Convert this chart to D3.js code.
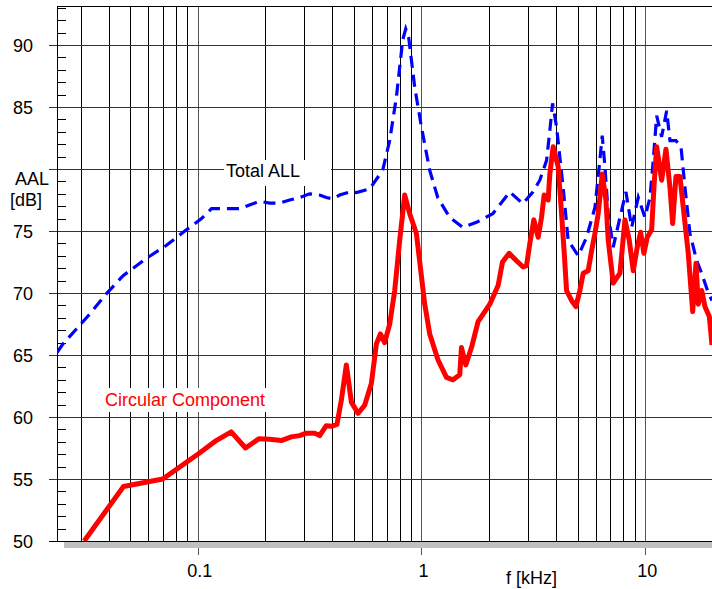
<!DOCTYPE html>
<html>
<head>
<meta charset="utf-8">
<script src="https://cdn.jsdelivr.net/npm/d3@7"></script>
<style>
	body { margin:0; background:#fff; }
	svg text { font-family: "Liberation Sans", Arial, sans-serif; font-size:18px; }
</style>
</head>
<body>
<div id="chart"></div>
<script>
////////////////////////////////////////////////////
// data : frequency in kHz, level in dB
var totalF = [0.0235,0.025,0.0287,0.0329,0.0391,0.0464,0.059,0.0725,0.0861,0.104,0.1153,0.1538,0.1705,0.1891,0.2096,0.2323,0.2575,0.2854,0.3164,0.3507,0.3757,0.4022,0.431,0.4777,0.5119,0.5871,0.6711,0.7214,0.7729,0.8247,0.8507,0.8773,0.9333,1.0,1.089,1.183,1.338,1.530,1.762,2.085,2.485,2.839,3.148,3.382,3.626,3.750,3.856,4.018,4.301,4.528,5.022,5.474,5.964,6.233,6.430,6.610,6.839,7.201,7.716,8.208,8.704,9.314,9.979,10.51,10.87,11.26,11.85,12.48,12.91,13.73,14.46,15.07,15.86,17.0,17.89,19.16,19.9];
var totalDB = [65.2,65.9,67.1,68.3,69.95,71.4,72.8,73.85,74.9,76.0,76.8,76.8,77.1,77.4,77.25,77.25,77.5,77.7,78.0,77.9,77.7,77.6,77.9,78.15,78.1,78.4,79.9,82.3,85.8,90.4,91.3,90.6,86.6,83.4,79.9,77.7,76.1,75.3,75.7,76.4,78.15,77.2,78.15,79.1,80.7,83.1,85.3,83.4,78.5,74.25,73.0,74.5,76.9,80.2,82.7,80.2,76.4,73.7,76.1,78.15,75.3,77.7,76.1,77.7,80.7,84.3,82.6,84.7,82.3,82.3,81.8,78.5,74.8,72.6,71.6,70.0,69.4];

var circF = [0.0311,0.0466,0.0698,0.1019,0.121,0.1412,0.1636,0.1877,0.2096,0.2363,0.2619,0.2854,0.3058,0.3331,0.3507,0.3757,0.3958,0.4192,0.4385,0.4618,0.4862,0.5205,0.5576,0.5973,0.629,0.6556,0.6851,0.7214,0.7596,0.7997,0.842,0.8864,0.9497,1.0346,1.0891,1.1865,1.2938,1.3845,1.4835,1.5101,1.5784,1.6739,1.7917,1.8865,2.0212,2.2016,2.3037,2.466,2.6614,2.8484,2.9498,3.052,3.1804,3.3242,3.4426,3.536,3.6847,3.7497,3.88,4.0849,4.2203,4.3535,4.4539,4.6897,4.9025,5.1088,5.2845,5.5643,5.7627,5.9635,6.17,6.43,6.6795,6.8392,7.2011,7.7161,8.1233,8.4921,8.8478,9.218,9.5474,9.8765,10.219,10.692,10.948,11.259,11.853,12.391,12.912,13.274,13.733,14.311,14.806,15.587,16.311,16.877,17.282,17.898,18.518,19.36,19.9];
var circDB = [50.0,54.4,55.0,57.1,58.1,58.8,57.5,58.25,58.2,58.1,58.4,58.5,58.7,58.7,58.5,59.3,59.25,59.4,61.35,64.2,61.2,60.3,60.95,62.7,65.9,66.7,66.0,67.5,70.2,74.25,77.9,76.4,74.8,69.1,66.7,64.6,63.2,63.0,63.4,65.6,64.2,65.6,67.7,68.3,69.1,70.6,72.5,73.2,72.6,72.1,72.2,74.0,75.9,74.5,76.1,77.9,77.5,79.6,81.8,80.2,76.7,73.1,70.2,69.4,68.9,70.2,71.6,71.8,73.4,74.8,76.4,79.6,77.5,74.25,70.8,71.6,75.9,74.25,71.8,73.7,74.9,73.2,74.5,75.1,78.5,81.8,79.1,81.6,78.5,75.6,79.4,79.4,76.9,73.2,68.5,72.4,69.1,70.2,68.9,68.1,65.8];

var yGrid = [55,60,65,70,75,80,85,90];
var yTickLabels = [50,55,60,65,70,75,85,90];   // 80 is replaced by the axis title
var xTicks = [0.1,1,10];
var xTickLabels = ["0.1","1","10"];

////////////////////////////////////////////////////
var totalW = 712;
var totalH = 589;
var plotL = 57, plotT = 6, plotR = 712, plotB = 541;

var x = d3.scaleLog().domain([0.0235, 19.9]).range([plotL, plotR]);
var y = d3.scaleLinear().domain([50, 93.15]).range([plotB, plotT]);

var chart = d3.select("#chart").append("svg")
	.attr("width", totalW)
	.attr("height", totalH);

/////////// GRID
var vLines = [];
[0.01,0.1,1,10].forEach(function(dec){
	for (var k=1;k<10;k++) {
		var f = dec*k;
		if (f>0.025 && f<19.5) vLines.push(f);
	}
});
chart.selectAll("line.vgrid")
	.data(vLines)
	.enter().append("line")
		.attr("class","vgrid")
		.attr("x1", function(d){return Math.round(x(d))+0.5;})
		.attr("x2", function(d){return Math.round(x(d))+0.5;})
		.attr("y1", plotT)
		.attr("y2", function(d){ return xTicks.indexOf(d)>=0 ? 555 : plotB; })
		.attr("stroke", function(d){ return xTicks.indexOf(d)>=0 ? "#555" : "#000"; })
		.attr("stroke-width", 1);

chart.selectAll("line.hgrid")
	.data(yGrid)
	.enter().append("line")
		.attr("class","hgrid")
		.attr("x1", 49)
		.attr("x2", plotR)
		.attr("y1", function(d){return Math.round(y(d))+0.5;})
		.attr("y2", function(d){return Math.round(y(d))+0.5;})
		.attr("stroke", "#333");

// minor ticks on the left axis
chart.selectAll("line.minor")
	.data(d3.range(51, 94).filter(function(d){return d%5!=0;}))
	.enter().append("line")
		.attr("x1", plotL)
		.attr("x2", 66)
		.attr("y1", function(d){return Math.round(y(d))+0.5;})
		.attr("y2", function(d){return Math.round(y(d))+0.5;})
		.attr("stroke", "#000");

// frame
chart.append("rect").attr("x", 64).attr("y", plotB).attr("width", plotR-64).attr("height", 7).attr("fill", "#c0c0c0");
chart.append("line").attr("x1", plotL).attr("x2", plotR).attr("y1", plotT+0.5).attr("y2", plotT+0.5).attr("stroke", "#000");
chart.append("line").attr("x1", 49).attr("x2", plotR).attr("y1", plotB+0.5).attr("y2", plotB+0.5).attr("stroke", "#000");
chart.append("line").attr("x1", plotL+0.5).attr("x2", plotL+0.5).attr("y1", plotT).attr("y2", plotB).attr("stroke", "#000");

/////////// LABEL BOXES (hide grid)
chart.append("rect").attr("x", 224).attr("y", 160).attr("width", 107).attr("height", 26).attr("fill", "#fff");
chart.append("rect").attr("x", 102).attr("y", 388).attr("width", 166).attr("height", 24).attr("fill", "#fff");

/////////// CURVES
chart.append("clipPath").attr("id", "plotclip")
	.append("rect").attr("x", plotL).attr("y", plotT).attr("width", plotR-plotL).attr("height", plotB-plotT);

var line = d3.line()
	.x(function(d){return x(d[0]);})
	.y(function(d){return y(d[1]);});

chart.append("path")
	.datum(totalF.map(function(f,i){return [f,totalDB[i]];}))
	.attr("clip-path", "url(#plotclip)")
	.attr("fill", "none")
	.attr("stroke", "#0000ff")
	.attr("stroke-width", 3.2)
	.attr("stroke-dasharray", "12,7")
	.attr("d", line);

chart.append("path")
	.datum(circF.map(function(f,i){return [f,circDB[i]];}))
	.attr("clip-path", "url(#plotclip)")
	.attr("fill", "none")
	.attr("stroke", "#ff0000")
	.attr("stroke-width", 5)
	.attr("stroke-linejoin", "round")
	.attr("d", line);

/////////// TEXT
chart.selectAll("text.ylab")
	.data(yTickLabels)
	.enter().append("text")
		.attr("x", 33)
		.attr("y", function(d){return y(d)+6.5;})
		.attr("text-anchor", "end")
		.text(function(d){return d;});

chart.selectAll("text.xlab")
	.data(xTicks)
	.enter().append("text")
		.attr("x", function(d){return x(d)+2;})
		.attr("y", 577)
		.attr("text-anchor", "middle")
		.text(function(d,i){return xTickLabels[i];});

chart.append("text").attr("x", 15).attr("y", 185).text("AAL");
chart.append("text").attr("x", 10).attr("y", 206).text("[dB]");
chart.append("text").attr("x", 506).attr("y", 584).text("f [kHz]");
chart.append("text").attr("x", 226).attr("y", 177).text("Total ALL");
chart.append("text").attr("x", 105).attr("y", 406).attr("fill", "#ff0000").text("Circular Component");
////////////////////////////////////////////////////
</script>
</body>
</html>
